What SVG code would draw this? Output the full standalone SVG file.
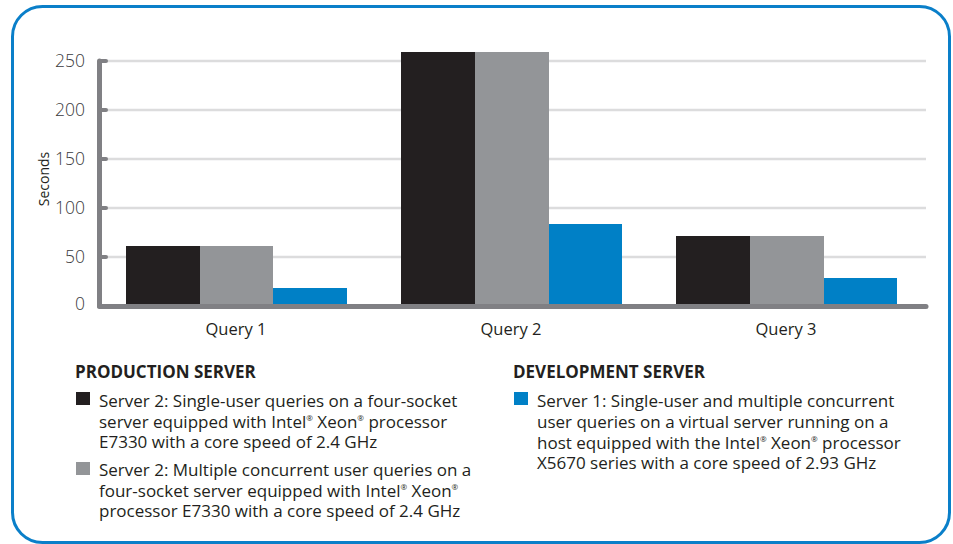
<svg xmlns="http://www.w3.org/2000/svg" width="953" height="544" viewBox="0 0 953 544">
<style>
text{font-family:"Open Sans","Noto Sans","Liberation Sans",sans-serif;fill:#231f20}
.tick{font-size:17.5px;font-weight:300;text-anchor:end;fill:#3a3a3c}
.cat{font-size:16.5px;text-anchor:middle}
.hd{font-size:17px;font-weight:700}
.lg{font-size:17px}
.grid{stroke:#dcdcdd;stroke-width:2.5}
.k{fill:#231f20}.g{fill:#939598}.b{fill:#0080c6}
.r{font-size:8px;baseline-shift:7px}
</style>
<rect x="12.5" y="6.5" width="937" height="536" rx="30" ry="30" fill="#fff" stroke="#0a7fc9" stroke-width="3"/>
<g id="grid">
<line class="grid" x1="100" y1="61" x2="926" y2="61"/>
<line class="grid" x1="100" y1="110" x2="926" y2="110"/>
<line class="grid" x1="100" y1="159" x2="926" y2="159"/>
<line class="grid" x1="100" y1="208" x2="926" y2="208"/>
<line class="grid" x1="100" y1="257" x2="926" y2="257"/>
</g>
<g id="bars">
<rect class="k" x="126" y="246" width="74" height="60"/>
<rect class="g" x="200" y="246" width="73" height="60"/>
<rect class="b" x="273" y="288" width="74" height="18"/>
<rect class="k" x="401" y="52" width="74" height="254"/>
<rect class="g" x="475" y="52" width="74" height="254"/>
<rect class="b" x="549" y="224" width="73" height="82"/>
<rect class="k" x="676" y="236" width="74" height="70"/>
<rect class="g" x="750" y="236" width="74" height="70"/>
<rect class="b" x="824" y="278" width="73" height="28"/>
</g>
<g id="axes" stroke="#808084" stroke-linecap="round" fill="none">
<line x1="99.5" y1="61" x2="99.5" y2="306" stroke-width="5"/>
<line x1="99.5" y1="306.5" x2="926" y2="306.5" stroke-width="5"/>
<g stroke-width="4">
<line x1="100" y1="61" x2="106" y2="61"/>
<line x1="100" y1="110" x2="106" y2="110"/>
<line x1="100" y1="159" x2="106" y2="159"/>
<line x1="100" y1="208" x2="106" y2="208"/>
<line x1="100" y1="257" x2="106" y2="257"/>
</g>
</g>
<g id="ylabels">
<text class="tick" x="85" y="67">250</text>
<text class="tick" x="85" y="116">200</text>
<text class="tick" x="85" y="165">150</text>
<text class="tick" x="85" y="214">100</text>
<text class="tick" x="85" y="263">50</text>
<text class="tick" x="85" y="310">0</text>
<text x="49" y="179" transform="rotate(-90 49 179)" text-anchor="middle" font-size="14">Seconds</text>
</g>
<g id="xlabels">
<text class="cat" x="236" y="335">Query 1</text>
<text class="cat" x="511" y="335">Query 2</text>
<text class="cat" x="786" y="335">Query 3</text>
</g>
<g id="legend-production">
<text class="hd" x="75" y="378">PRODUCTION SERVER</text>
<rect class="k" x="76" y="392" width="14" height="13"/>
<text class="lg" x="99" y="407">Server 2: Single-user queries on a four-socket</text>
<text class="lg" x="99" y="428">server equipped with Intel<tspan class="r">®</tspan> Xeon<tspan class="r">®</tspan> processor</text>
<text class="lg" x="99" y="448">E7330 with a core speed of 2.4 GHz</text>
<rect class="g" x="76" y="462" width="14" height="13"/>
<text class="lg" x="99" y="476">Server 2: Multiple concurrent user queries on a</text>
<text class="lg" x="99" y="497">four-socket server equipped with Intel<tspan class="r">®</tspan> Xeon<tspan class="r">®</tspan></text>
<text class="lg" x="99" y="517">processor E7330 with a core speed of 2.4 GHz</text>
</g>
<g id="legend-development">
<text class="hd" x="513" y="378">DEVELOPMENT SERVER</text>
<rect class="b" x="514" y="392" width="14" height="13"/>
<text class="lg" x="537" y="407">Server 1: Single-user and multiple concurrent</text>
<text class="lg" x="537" y="428">user queries on a virtual server running on a</text>
<text class="lg" x="537" y="449">host equipped with the Intel<tspan class="r">®</tspan> Xeon<tspan class="r">®</tspan> processor</text>
<text class="lg" x="537" y="469">X5670 series with a core speed of 2.93 GHz</text>
</g>
</svg>
